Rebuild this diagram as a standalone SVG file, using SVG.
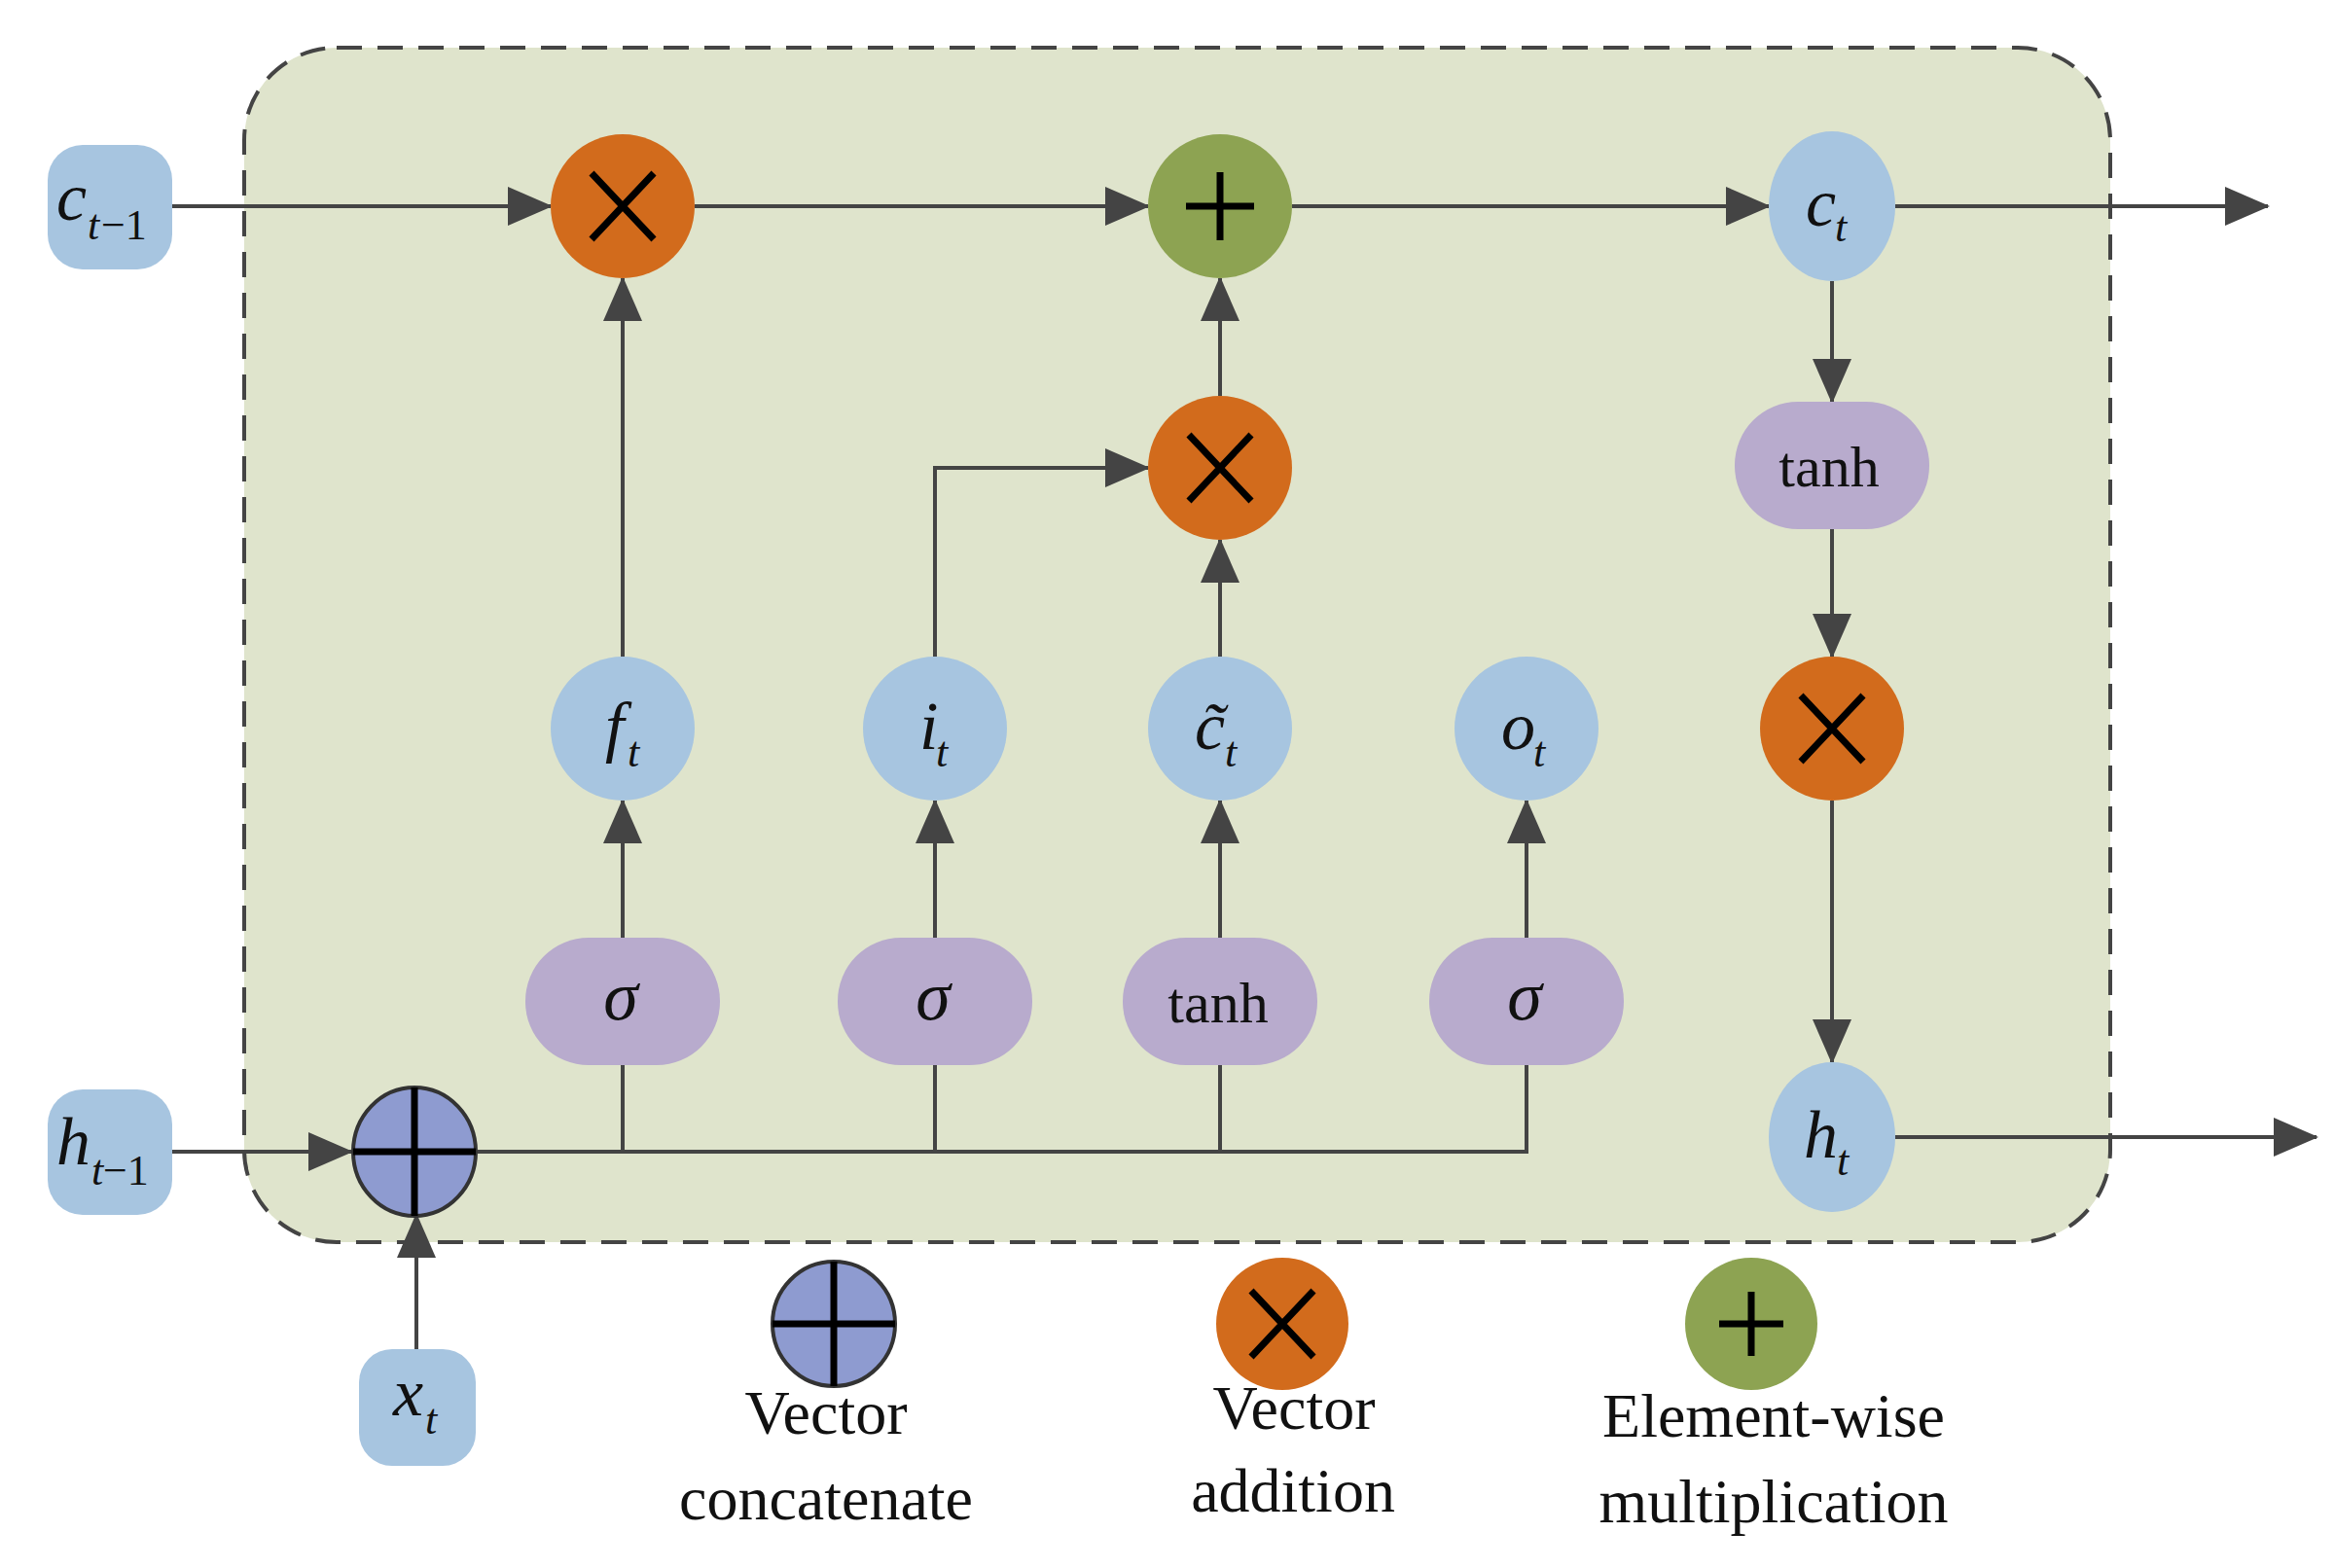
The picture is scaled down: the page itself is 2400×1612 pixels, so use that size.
<svg xmlns="http://www.w3.org/2000/svg" width="2400" height="1612" viewBox="0 0 2400 1612">
<style>
.ln{stroke:#444;stroke-width:4;fill:none}
.ar{marker-end:url(#ah)}
.blue{fill:#a7c5e0}
.pur{fill:#b8abcd}
.org{fill:#d26b1c}
.grn{fill:#8da352}
.mark{stroke:#000;stroke-width:7;fill:none}
.t{font-family:"Liberation Serif",serif;fill:#111}
.it{font-family:"Liberation Serif",serif;font-style:italic;fill:#111}
</style>
<defs>
<marker id="ah" markerUnits="userSpaceOnUse" markerWidth="46" markerHeight="40" refX="44" refY="20" orient="auto"><path d="M0,0 L46,20 L0,40 Z" fill="#444"/></marker>
<g id="xs"><path class="mark" d="M-32,-34 L32,34 M-32,34 L32,-34"/></g>
</defs>
<rect x="251" y="49" width="1918" height="1228" rx="95" fill="#dfe4cc" stroke="#444" stroke-width="4" stroke-dasharray="26,16"/>
<g id="connectors">
<path class="ln ar" d="M177,212 H566"/>
<path class="ln ar" d="M714,212 H1180"/>
<path class="ln ar" d="M1328,212 H1818"/>
<path class="ln ar" d="M1948,212 H2331"/>
<path class="ln ar" d="M640,675 V286"/>
<path class="ln ar" d="M1254,407 V286"/>
<path class="ln ar" d="M961,675 V481 H1180"/>
<path class="ln ar" d="M1254,675 V555"/>
<path class="ln ar" d="M640,964 V823"/>
<path class="ln ar" d="M961,964 V823"/>
<path class="ln ar" d="M1254,964 V823"/>
<path class="ln ar" d="M1569,964 V823"/>
<path class="ln" d="M491,1184 H1569 V1094 M640,1184 V1094 M961,1184 V1094 M1254,1184 V1094"/>
<path class="ln ar" d="M177,1184 H361"/>
<path class="ln ar" d="M428,1387 V1249"/>
<path class="ln ar" d="M1883,289 V413"/>
<path class="ln ar" d="M1883,544 V675"/>
<path class="ln ar" d="M1883,823 V1092"/>
<path class="ln ar" d="M1948,1169 H2381"/>
</g>
<g id="c_prev"><rect class="blue" x="49" y="149" width="128" height="128" rx="36"/><text class="it" x="58" y="226" font-size="70">c</text><text class="it" x="90" y="246" font-size="44">t</text><text class="t" x="104" y="246" font-size="44">−1</text></g>
<g id="mul1"><circle class="org" cx="640" cy="212" r="74"/><use href="#xs" x="640" y="212"/></g>
<g id="add"><circle class="grn" cx="1254" cy="212" r="74"/><path class="mark" d="M1219,212 H1289 M1254,177 V247"/></g>
<g id="c_t"><ellipse class="blue" cx="1883" cy="212" rx="65" ry="77"/><text class="it" x="1856" y="232" font-size="70">c</text><text class="it" x="1886" y="248" font-size="44">t</text></g>
<g id="mul2"><circle class="org" cx="1254" cy="481" r="74"/><use href="#xs" x="1254" y="481"/></g>
<g id="tanh_c"><rect class="pur" x="1783" y="413" width="200" height="131" rx="65"/><text class="t" x="1880" y="500" font-size="60" text-anchor="middle">tanh</text></g>
<g id="mul3"><circle class="org" cx="1883" cy="749" r="74"/><use href="#xs" x="1883" y="749"/></g>
<g id="h_t"><ellipse class="blue" cx="1883" cy="1169" rx="65" ry="77"/><text class="it" x="1854" y="1190" font-size="70">h</text><text class="it" x="1888" y="1208" font-size="44">t</text></g>
<g id="f_t"><circle class="blue" cx="640" cy="749" r="74"/><text class="it" x="622" y="770" font-size="70">f</text><text class="it" x="645" y="788" font-size="44">t</text></g>
<g id="i_t"><circle class="blue" cx="961" cy="749" r="74"/><text class="it" x="945" y="770" font-size="70">i</text><text class="it" x="962" y="788" font-size="44">t</text></g>
<g id="c_tilde"><circle class="blue" cx="1254" cy="749" r="74"/><text class="it" x="1228" y="770" font-size="70">c̃</text><text class="it" x="1259" y="788" font-size="44">t</text></g>
<g id="o_t"><circle class="blue" cx="1569" cy="749" r="74"/><text class="it" x="1543" y="770" font-size="70">o</text><text class="it" x="1576" y="788" font-size="44">t</text></g>
<g id="sig1"><rect class="pur" x="540" y="964" width="200" height="131" rx="65"/><text class="it" x="638" y="1048" font-size="72" text-anchor="middle">σ</text></g>
<g id="sig2"><rect class="pur" x="861" y="964" width="200" height="131" rx="65"/><text class="it" x="959" y="1048" font-size="72" text-anchor="middle">σ</text></g>
<g id="tanh1"><rect class="pur" x="1154" y="964" width="200" height="131" rx="65"/><text class="t" x="1252" y="1051" font-size="60" text-anchor="middle">tanh</text></g>
<g id="sig3"><rect class="pur" x="1469" y="964" width="200" height="131" rx="65"/><text class="it" x="1567" y="1048" font-size="72" text-anchor="middle">σ</text></g>
<g id="concat"><ellipse fill="#8e9bd0" stroke="#333" stroke-width="4" cx="426" cy="1184" rx="63" ry="66"/><path class="mark" d="M363,1184 H489 M426,1118 V1250"/></g>
<g id="h_prev"><rect class="blue" x="49" y="1120" width="128" height="129" rx="36"/><text class="it" x="58" y="1197" font-size="70">h</text><text class="it" x="94" y="1218" font-size="44">t</text><text class="t" x="106" y="1218" font-size="44">−1</text></g>
<g id="x_t"><rect class="blue" x="369" y="1387" width="120" height="120" rx="34"/><text class="it" x="404" y="1455" font-size="70">x</text><text class="it" x="437" y="1474" font-size="44">t</text></g>
<g id="legend_concat"><ellipse fill="#8e9bd0" stroke="#333" stroke-width="4" cx="857" cy="1361" rx="63" ry="64"/><path class="mark" d="M794,1361 H920 M857,1297 V1425"/><text class="t" x="849" y="1474" font-size="64" text-anchor="middle">Vector</text><text class="t" x="849" y="1562" font-size="64" text-anchor="middle">concatenate</text></g>
<g id="legend_mul"><circle class="org" cx="1318" cy="1361" r="68"/><use href="#xs" x="1318" y="1361"/><text class="t" x="1330" y="1469" font-size="64" text-anchor="middle">Vector</text><text class="t" x="1329" y="1554" font-size="64" text-anchor="middle">addition</text></g>
<g id="legend_add"><circle class="grn" cx="1800" cy="1361" r="68"/><path class="mark" d="M1767,1361 H1833 M1800,1328 V1394"/><text class="t" x="1823" y="1477" font-size="64" text-anchor="middle">Element-wise</text><text class="t" x="1823" y="1565" font-size="64" text-anchor="middle">multiplication</text></g>
</svg>
